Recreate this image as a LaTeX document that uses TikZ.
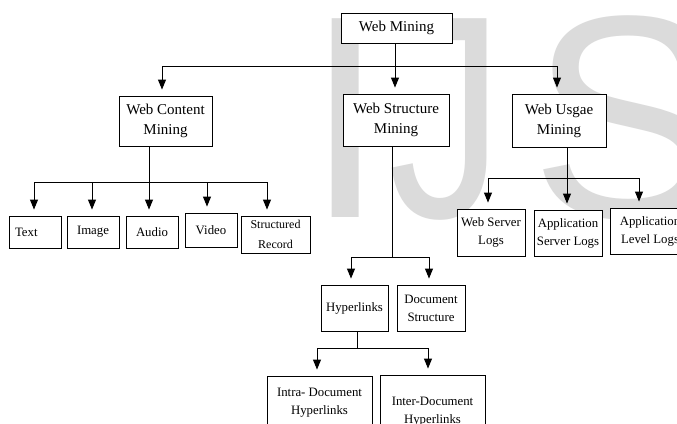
\documentclass[tikz,border=0pt]{standalone}
\usepackage{fontspec}
\setmainfont{Liberation Serif}
\newfontfamily\marksans{Liberation Sans}
\usetikzlibrary{arrows.meta}
\usetikzlibrary{calc}
\definecolor{wmgray}{gray}{0.86}

\begin{document}
\begin{tikzpicture}[x=1pt, y=-1pt, line width=0.9pt,
	box/.style={draw, fill=white, align=center, inner sep=0pt},
	big/.style={box, font=\fontsize{15}{20}\selectfont},
	small/.style={box, font=\fontsize{12.8}{18}\selectfont},
	arr/.style={-{Triangle[length=10pt, width=8pt]}, shorten >=6pt},
	wm/.style={text=wmgray, font=\marksans\fontsize{289}{289}\selectfont, anchor=base west, inner sep=0pt}]
	\clip (0,0) rectangle (677,423);
	\fill[white] (0,0) rectangle (677,423);
	\node[wm] (wmI) at (305,217) {I};
	\node[wm, xscale=0.8] (wmJ) at (388,217) {J};
	\node[wm] (wmS) at (530,217) {S};

	\node[big, minimum width=111pt, minimum height=30pt] (web) at (396.5,28) {Web Mining};
	\node[big, minimum width=93pt, minimum height=50pt] (content) at (165.5,121) {Web Content\\Mining};
	\node[big, minimum width=106pt, minimum height=52pt] (structure) at (396,120) {Web Structure\\Mining};
	\node[big, minimum width=94pt, minimum height=53pt] (usage) at (559,120.5) {Web Usgae\\Mining};

	\node[small, minimum height=32pt, inner xsep=6pt, text width=40pt, align=left] (text) at (35,232) {Text};
	\node[small, minimum width=52pt, minimum height=32pt] (image) at (93,232) {Image};
	\node[small, minimum width=52pt, minimum height=32pt] (audio) at (152,232) {Audio};
	\node[small, minimum width=52pt, minimum height=34pt] (video) at (211,230) {Video};
	\node[box, font=\fontsize{12}{20}\selectfont, minimum width=69pt, minimum height=37pt] (record) at (275.5,234.5) {Structured\\Record};

	\node[small, minimum width=68pt, minimum height=47pt] (wslogs) at (491,232.5) {Web Server\\Logs};
	\node[small, minimum width=68pt, minimum height=46pt] (aslogs) at (568,233) {Application\\Server Logs};
	\node[small, minimum width=80pt, minimum height=46pt] (allogs) at (650,231) {Application\\Level Logs};

	\node[small, minimum width=67pt, minimum height=46pt] (hyper) at (354.5,308) {Hyperlinks};
	\node[small, minimum width=68pt, minimum height=46pt] (docstruct) at (431,308) {Document\\Structure};
	\node[small, minimum width=105pt, minimum height=54pt] (intra) at (319.5,403) {Intra- Document\\Hyperlinks};
	\node[small, minimum width=105pt, minimum height=74pt] (inter) at (432.5,412) {Inter-Document\\Hyperlinks};

	\coordinate (bus0) at (0,66);
	\coordinate (cbus) at (0,182);
	\coordinate (ubus) at (0,178);
	\coordinate (sbus) at (0,257);
	\coordinate (hbus) at (0,348);

	\draw ($(web.south)+(-1.5,0)$) -- ($(web.south |- bus0)+(-1.5,0)$);
	\draw ($(content.north |- bus0)+(-3.5,0)$) -- ($(usage.north |- bus0)+(-2,0)$);
	\foreach \n/\dx in {content/-3.5, structure/-1, usage/-2}
		\draw[arr] ($(\n.north |- bus0)+(\dx,0)$) -- ($(\n.north)+(\dx,0)$);

	\draw ($(content.south)+(-16.5,0)$) -- ($(content.south |- cbus)+(-16.5,0)$);
	\draw ($(text.north |- cbus)+(-1,0)$) -- ($(record.north |- cbus)+(-8.5,0)$);
	\foreach \n/\dx in {text/-1, image/-1, audio/-3, video/-4, record/-8.5}
		\draw[arr] ($(\n.north |- cbus)+(\dx,0)$) -- ($(\n.north)+(\dx,0)$);

	\draw ($(usage.south)+(8,0)$) -- ($(usage.south |- ubus)+(8,0)$);
	\draw ($(wslogs.north |- ubus)+(-3,0)$) -- ($(allogs.north |- ubus)+(-11,0)$);
	\foreach \n/\dx in {wslogs/-3, aslogs/-1, allogs/-11}
		\draw[arr] ($(\n.north |- ubus)+(\dx,0)$) -- ($(\n.north)+(\dx,0)$);

	\draw ($(structure.south)+(-4,0)$) -- ($(structure.south |- sbus)+(-4,0)$);
	\draw ($(hyper.north |- sbus)+(-3.5,0)$) -- ($(docstruct.north |- sbus)+(-2,0)$);
	\foreach \n/\dx in {hyper/-3.5, docstruct/-2}
		\draw[arr] ($(\n.north |- sbus)+(\dx,0)$) -- ($(\n.north)+(\dx,0)$);

	\draw ($(hyper.south)+(2.5,0)$) -- ($(hyper.south |- hbus)+(2.5,0)$);
	\draw ($(intra.north |- hbus)+(-2.5,0)$) -- ($(inter.north |- hbus)+(-4.5,0)$);
	\foreach \n/\dx in {intra/-2.5, inter/-4.5}
		\draw[arr] ($(\n.north |- hbus)+(\dx,0)$) -- ($(\n.north)+(\dx,0)$);
\end{tikzpicture}
\end{document}
